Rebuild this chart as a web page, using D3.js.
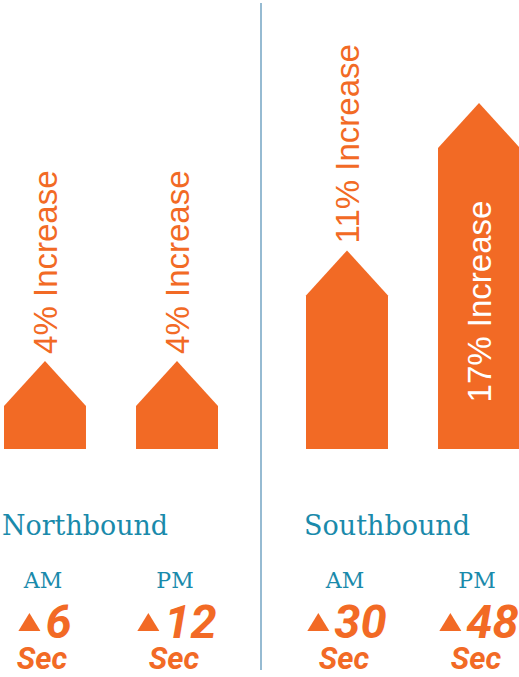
<!DOCTYPE html>
<html>
<head>
<meta charset="utf-8">
<script src="https://cdn.jsdelivr.net/npm/d3@7"></script>
<style>
  html, body { margin: 0; padding: 0; background: #ffffff; }
  svg { display: block; }
</style>
</head>
<body>
<svg id="chart" width="519" height="677"></svg>
<script>
// ---- data ----
const directions = ["Northbound", "Southbound"];
const periods = ["AM", "PM"];
const barDirection = ["Northbound", "Northbound", "Southbound", "Southbound"];
const barPeriod = ["AM", "PM", "AM", "PM"];
const increasePct = [4, 4, 11, 17];
const delaySec = [6, 12, 30, 48];
const unitLabel = "Sec";

const data = increasePct.map((p, i) => ({
  dir: barDirection[i], period: barPeriod[i], pct: p, sec: delaySec[i]
}));

// ---- styles ----
const ORANGE = "#f26a25";
const TEAL = "#1a8aab";
const DIVIDER = "#96bbd2";

const svg = d3.select("#chart");

// ---- scales ----
const x0 = d3.scaleBand().domain(directions).range([4, 520]).paddingInner(0.2914);
const x1 = d3.scaleBand().domain(periods).range([0, x0.bandwidth()]).paddingInner(0.379);
const y = d3.scalePow().exponent(1.7).domain([0, 17]).range([385, 103]);
const baseY = 449;
const roofH = 45;

const cx = d => x0(d.dir) + x1(d.period) + x1.bandwidth() / 2;
const left = d => x0(d.dir) + x1(d.period);

// ---- divider ----
const divX = (x0("Northbound") + x0.bandwidth() + x0("Southbound")) / 2 - 1;
svg.append("line")
  .attr("x1", divX).attr("x2", divX)
  .attr("y1", 3).attr("y2", 670)
  .attr("stroke", DIVIDER).attr("stroke-width", 2);

// ---- arrow bars ----
svg.selectAll("path.bar").data(data).join("path")
  .attr("class", "bar")
  .attr("fill", ORANGE)
  .attr("d", d => {
    const l = left(d), r = l + x1.bandwidth(), c = cx(d);
    const peak = y(d.pct), shoulder = peak + roofH;
    return `M${l},${baseY}L${l},${shoulder}L${c},${peak}L${r},${shoulder}L${r},${baseY}Z`;
  });

// ---- rotated labels ----
const labelFont = "'Liberation Sans', Arial, sans-serif";
const labels = svg.selectAll("text.lab").data(data).join("text")
  .attr("class", "lab")
  .attr("font-family", labelFont)
  .attr("font-size", 33)
  .text(d => `${d.pct}% Increase`);

labels.each(function(d) {
  const len = this.getComputedTextLength();
  const peak = y(d.pct), shoulder = peak + roofH;
  const rectH = baseY - shoulder;
  const inside = rectH > len + 40;
  const sel = d3.select(this);
  if (inside) {
    const mid = (shoulder + baseY) / 2;
    sel.attr("fill", "#ffffff")
      .attr("text-anchor", "middle")
      .attr("transform", `translate(${cx(d) + 12},${mid + 3}) rotate(-90)`);
  } else {
    sel.attr("fill", ORANGE)
      .attr("text-anchor", "start")
      .attr("transform", `translate(${cx(d) + 12},${peak - 7}) rotate(-90)`);
  }
});

// ---- direction titles ----
svg.selectAll("text.dir").data(directions).join("text")
  .attr("class", "dir")
  .attr("x", d => x0(d) - 2)
  .attr("y", 535)
  .attr("fill", TEAL)
  .attr("font-family", "'DejaVu Serif', serif")
  .attr("font-size", 28)
  .attr("textLength", 166)
  .attr("lengthAdjust", "spacingAndGlyphs")
  .text(d => d);

// ---- AM / PM ----
svg.selectAll("text.per").data(data).join("text")
  .attr("class", "per")
  .attr("x", d => cx(d) - 2)
  .attr("y", 588)
  .attr("text-anchor", "middle")
  .attr("fill", TEAL)
  .attr("font-family", "'DejaVu Serif', serif")
  .attr("font-size", 22)
  .text(d => d.period);

// ---- seconds with triangle ----
const triW = 22, triH = 18, gap = 5;
const secG = svg.selectAll("g.sec").data(data).join("g").attr("class", "sec");
secG.each(function(d) {
  const g = d3.select(this);
  const t = g.append("text")
    .attr("fill", ORANGE)
    .attr("font-family", "Roboto, sans-serif")
    .attr("font-weight", 700)
    .attr("font-style", "italic")
    .attr("font-size", 47)
    .attr("y", 638)
    .text(d.sec);
  const w = t.node().getComputedTextLength();
  const total = triW + gap + w;
  const start = cx(d) - total / 2;
  t.attr("x", start + triW + gap);
  g.append("path")
    .attr("fill", ORANGE)
    .attr("d", `M${start},631L${start + triW / 2},${631 - triH}L${start + triW},631Z`);
  g.append("text")
    .attr("fill", ORANGE)
    .attr("font-family", "Roboto, sans-serif")
    .attr("font-weight", 700)
    .attr("font-style", "italic")
    .attr("font-size", 31)
    .attr("x", cx(d) - 3)
    .attr("y", 669)
    .attr("text-anchor", "middle")
    .text(unitLabel);
});
</script>
</body>
</html>
